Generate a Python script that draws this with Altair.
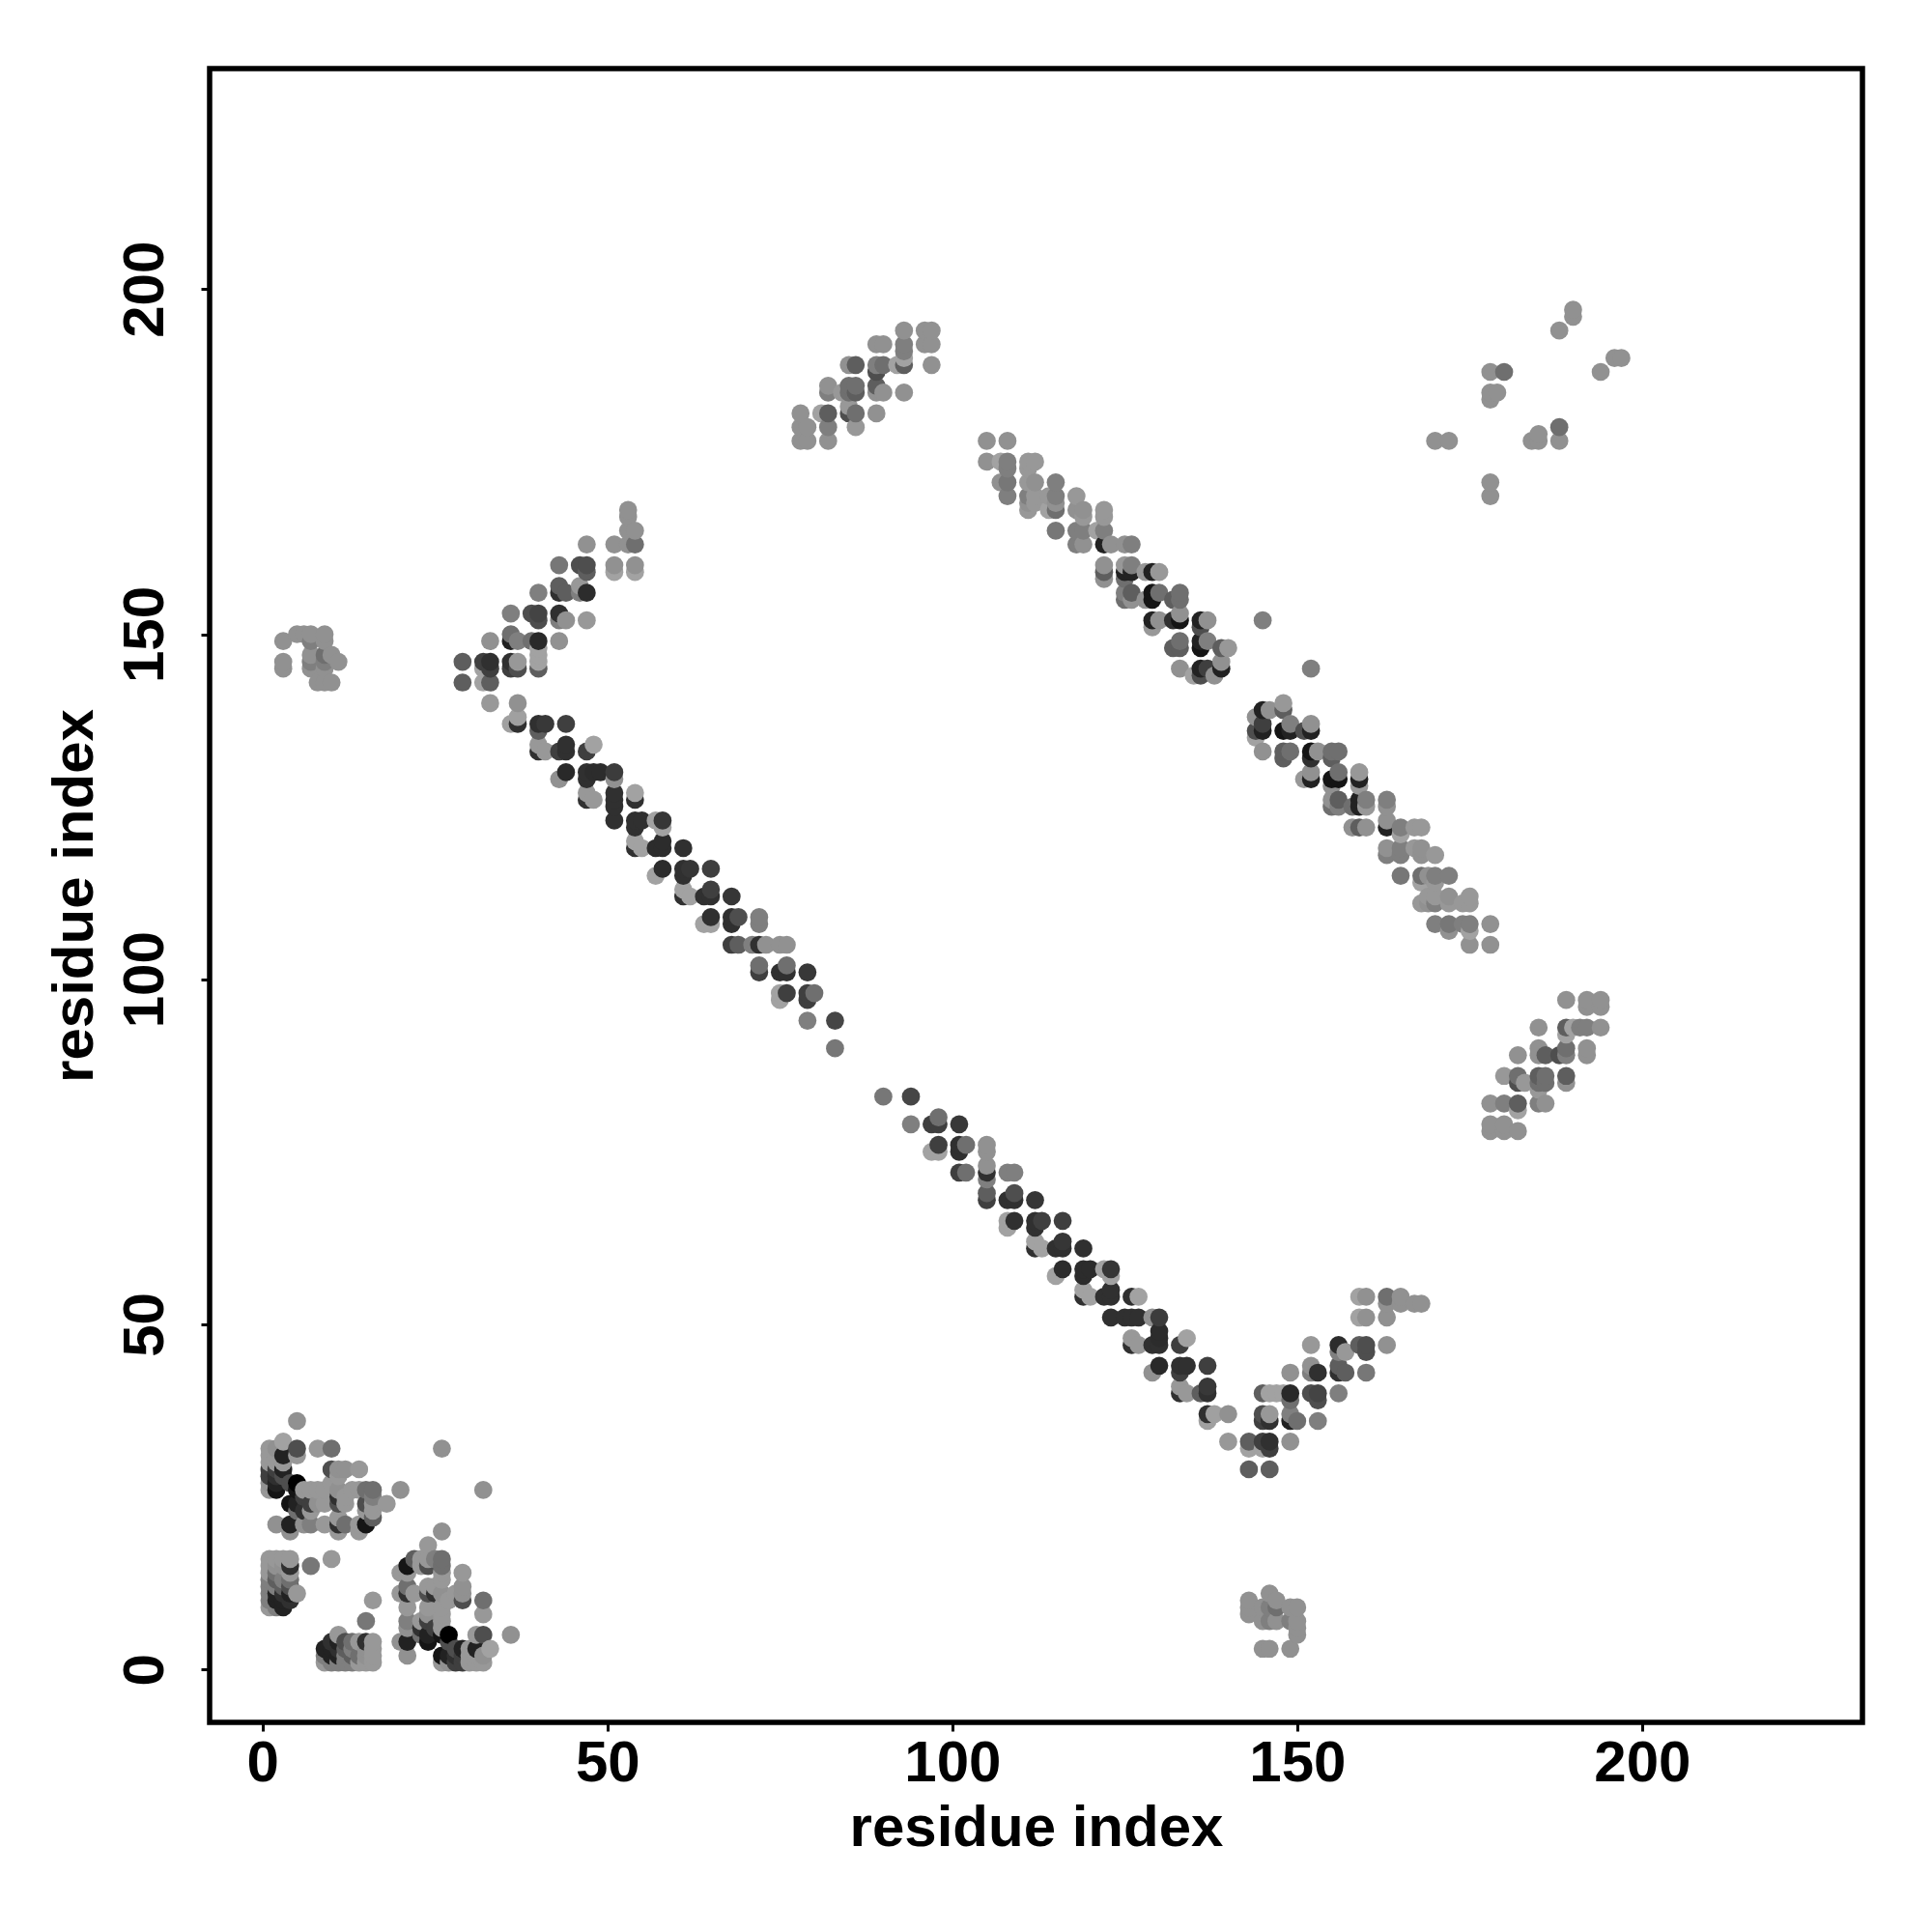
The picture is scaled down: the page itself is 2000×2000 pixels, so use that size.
import altair as alt
import pandas as pd

# (residue i, residue j, grey level), for i < j; the map is symmetric
block_a = [(5,36,0x99),(1,32,0xa0),(2,32,0x99),(3,33,0xaa),(5,32,0x55),(8,32,0xa0),(10,32,0x77),(5,31,0xa0),(3,31,0x22),(1,31,0xa0),(1,30,0xa0),
 (3,29,0x22),(2,29,0x44),(1,29,0x44),(10,29,0x77),(11,29,0x99),(12,29,0x99),(14,29,0xa0),(1,28,0x44),(2,28,0x33),(3,28,0x55),
 (5,27,0x00),(4,27,0x55),(2,27,0x22),(1,26,0xa0),(2,26,0x11),(5,26,0x11),(6,26,0xa0),(7,26,0xa0),(9,26,0xa0),(10,27,0xa0),(11,26,0x99),
 (13,26,0xa0),(15,26,0x77),(16,26,0x77),(20,26,0x99),(26,32,0x99),(4,24,0x11),(5,24,0x22),(6,25,0x44),(7,24,0x44),(9,24,0xa0),(11,24,0x55),
 (11,25,0x33),(12,24,0xa0),(12,25,0xa0),(15,24,0x55),(16,25,0x88),(16,24,0xa0),(18,24,0xa0),(5,23,0x77),(6,23,0x33),(7,23,0xa0),(15,23,0xa0),
 (16,23,0xa0),(16,22,0x66),(2,21,0x99),(4,21,0x22),(4,20,0x99),(6,21,0x99),(7,21,0x88),(9,21,0xa0),(11,21,0x33),(12,21,0x77),(11,20,0xa0),
 (14,21,0xa0),(15,21,0x11),(14,20,0xa0),(14,26,0xa0),(13,26,0xa0),(11,22,0xa0),(8,24,0x99),(8,26,0xa0),(10,29,0x55),(11,28,0xa0)]
block_b = [(1,16,0xa0),(2,16,0xa0),(4,16,0xa0),(4,15,0x33),(1,15,0xa0),(2,15,0x99),(4,14,0xa0),(1,14,0xa0),(2,14,0x77),(1,13,0x88),(2,13,0x66),
 (4,13,0x77),(1,12,0x88),(2,12,0x88),(3,12,0x66),(4,12,0x55),(5,11,0xa0),(1,11,0x88),(2,11,0x22),(3,11,0x33),(4,11,0x22),(1,10,0x88),(2,10,0x22),
 (3,10,0x22),(4,10,0x33),(1,9,0xa0),(2,9,0x88),(3,9,0x22),(7,15,0x80),(10,16,0xa0),(3,13,0x88),(3,15,0x99),(3,16,0xa0)]
block_c = [(1,27,0xa0),(2,30,0xa0),(1,26,0xa0),(3,30,0xa0),(2,31,0xa0),(1,27,0x99)]
strand_1 = [(29,146,0x66),(32,146,0x44),(33,146,0x33),(33,145,0x44),(32,145,0xaa),(36,146,0x33),(36,145,0x44),(37,145,0x55),(37,146,0xa0),(40,145,0x66),
 (40,147,0xaa),(40,146,0xaa),(29,143,0x66),(32,143,0xaa),(33,143,0x66),(33,140,0xa0),(37,140,0x99),(36,137,0xa8),(37,137,0x33),(37,138,0xa8),
 (40,137,0x33),(41,137,0x3c),(44,137,0x44),(40,136,0x66),(40,133,0x33),(40,134,0xa0),(41,133,0xa0),(43,133,0x44),(44,133,0x33),(44,134,0x33),
 (47,133,0x44),(48,134,0xaa),(44,130,0x2a),(43,129,0x99),(47,130,0x33),(48,130,0x2e),(49,130,0x2e),(47,129,0x33),(51,130,0x40),(51,129,0x99),
 (47,126,0x33),(47,127,0xa0),(48,126,0xa0),(51,127,0x33),(51,126,0x33),(51,125,0x33),(54,126,0x33),(54,127,0xaa),(51,123,0x33),(54,123,0x33),
 (55,123,0x33),(54,122,0x33),(57,123,0xaa),(58,123,0x3a),(58,122,0xaa),(54,119,0x33),(54,120,0xaa),(55,119,0xaa),(57,119,0x2e),(58,119,0x2e),
 (58,120,0x2e),(61,119,0x33),(58,116,0x2e),(57,115,0xaa),(61,116,0x33),(62,116,0x3a),(61,115,0x33),(65,116,0x44),(61,112,0x33),(61,113,0xaa),
 (62,112,0xaa),(64,112,0x33),(65,112,0x33),(65,113,0x44),(68,112,0x3a),(65,109,0x33),(64,108,0xaa),(65,108,0xaa),(68,109,0x33),(69,109,0x55),
 (68,108,0x33),(72,109,0x88),(72,108,0x88),(68,105,0x44),(69,105,0x66),(71,105,0x88),(72,105,0x33),(73,105,0x99),(75,105,0x99),(76,105,0x99),
 (72,102,0x77),(72,101,0x44),(75,101,0x33),(76,101,0x33),(76,102,0x77),(79,101,0x3c),(76,98,0x44),(75,98,0xaa),(75,97,0xaa),(79,98,0x44),
 (79,97,0x44),(80,98,0x77),(79,94,0x88),(83,94,0x4c),(83,90,0x80)]
strand_2 = [(53,168,0x99),(53,167,0x99),(53,165,0x99),(54,165,0x99),(53,163,0x99),(54,163,0x77),(51,163,0x99),(47,163,0x99),(51,160,0x99),(51,159,0xaa),
 (54,160,0x99),(54,159,0xaa),(43,160,0x80),(46,160,0x55),(47,160,0x55),(47,159,0x66),(40,156,0x88),(43,156,0x33),(43,157,0x66),(44,156,0x66),
 (46,157,0xa0),(46,156,0x88),(47,156,0x2e),(36,153,0x88),(39,153,0x55),(40,153,0x4a),(40,152,0x55),(43,153,0x33),(43,152,0x88),(44,152,0x99),
 (47,152,0xa0),(33,149,0x99),(36,149,0x1f),(36,150,0x77),(37,149,0x88),(39,149,0x77),(40,149,0x2a),(40,148,0xaa),(43,149,0x99)]
strand_3 = [(105,178,0x99),(108,178,0x99),(105,175,0x99),(107,175,0xaa),(108,175,0x88),(108,174,0x88),(107,172,0x99),(108,172,0x80),(108,170,0x88),
 (111,175,0xa0),(112,175,0xa0),(111,174,0xa0),(111,172,0xa0),(112,172,0x99),(111,170,0x88),(111,169,0x99),(112,170,0xa0),(112,169,0xa0),(111,168,0xa0),
 (115,172,0x88),(115,170,0x88),(114,170,0xa0),(115,168,0x77),(115,169,0x99),(114,168,0xaa),(115,165,0x80),(118,170,0xa0),(118,168,0x99),(118,165,0x88),
 (118,163,0x88),(119,168,0x99),(119,167,0xa0),(119,165,0x88),(119,163,0x99),(121,165,0xaa),(122,168,0xa0),(122,167,0xa0),(122,165,0x88),(122,163,0x22),
 (123,163,0x99),(125,163,0x99),(126,163,0x88),(122,160,0x99),(122,159,0x66),(122,158,0x99),(125,160,0xa0),(125,159,0x22),(126,159,0x22),(126,160,0x88),
 (125,158,0x77),(128,159,0xa0),(129,159,0x22),(130,159,0xa0),(125,156,0x88),(126,156,0x66),(128,155,0x99),(129,156,0x11),(129,155,0x11),(130,156,0x77),
 (126,155,0x99),(125,155,0x77),(132,155,0x66),(133,156,0x77),(133,155,0x77),(129,152,0x22),(130,152,0x99),(129,151,0xa0),(132,152,0x33),(133,152,0x11),
 (133,153,0x99),(136,152,0x22),(137,152,0x99),(136,151,0x55),(133,149,0x77),(132,148,0x66),(133,148,0x66),(136,148,0x11),(136,149,0x22),(137,149,0x88),
 (139,148,0x66),(140,148,0xa0),(139,146,0x99),(133,145,0x99),(136,145,0x22),(136,144,0x55),(137,145,0x44),(135,144,0xaa),(138,144,0x99),(139,145,0x22),(145,152,0x88)]
strand_4 = [(78,182,0x99),(78,180,0x99),(79,180,0x99),(78,178,0x99),(79,178,0x99),(82,178,0x99),(82,180,0x88),(81,182,0xaa),(82,182,0x66),(82,185,0x88),
 (82,186,0x99),(84,185,0xa0),(85,182,0x55),(85,183,0xa0),(86,182,0x77),(86,180,0xa0),(89,182,0x99),(85,186,0x77),(86,186,0x77),(86,185,0x66),(85,185,0x77),
 (89,186,0x66),(89,185,0x99),(90,185,0x99),(93,185,0x99),(85,189,0x99),(86,189,0x66),(89,189,0x88),(89,188,0x55),(90,189,0x77),(89,192,0x99),(90,192,0x99),
 (92,189,0xaa),(93,189,0x66),(93,190,0xaa),(93,194,0x99),(93,192,0x88),(93,191,0x88),(96,194,0x99),(97,194,0x99),(96,192,0x99),(97,192,0x99),(97,189,0x99)]
cluster_left = [(3,149,0x99),(3,146,0x99),(3,145,0x99),(5,150,0x99),(6,150,0x99),(7,150,0x99),(9,150,0x99),(7,149,0x88),(9,149,0x99),(7,147,0x99),
 (7,146,0x88),(9,147,0x77),(9,146,0x88),(10,147,0x99),(11,146,0x99),(8,143,0x99),(9,143,0x99),(10,143,0x99),(7,145,0x99),(9,145,0x99)]
cluster_right = [(170,178,0x99),(172,178,0x99),(178,184,0x99),(178,185,0x99),(179,185,0x99),(178,188,0x99),(180,188,0x77),(188,194,0x99),(190,196,0x99),(190,197,0x99)]

upper = block_a + block_b + block_c + strand_1 + strand_2 + strand_3 + strand_4 + cluster_left + cluster_right
points = {}
for i, j, level in upper:
    points[(i, j)] = level
    points[(j, i)] = level
rows = [{"x": k[0], "y": k[1], "level": points[k]} for k in sorted(points)]
df = pd.DataFrame(rows)
df["order"] = range(len(df))

ticks = [0, 50, 100, 150, 200]
domain = [-7.67, 231.95]
FONT = "Liberation Sans"

chart = alt.Chart(df).mark_circle(size=350, opacity=1).encode(
    x=alt.X("x:Q", scale=alt.Scale(domain=domain, nice=False, zero=False),
            axis=alt.Axis(values=ticks, title="residue index", grid=False, domain=False,
                          tickSize=9, tickWidth=3, tickColor="black", labelFontSize=60,
                          labelFont=FONT, labelFontWeight="bold", labelColor="black",
                          labelPadding=4, labelFlush=False, titleFontSize=60, titleFont=FONT,
                          titleFontWeight="bold", titleColor="black", titlePadding=8)),
    y=alt.Y("y:Q", scale=alt.Scale(domain=domain, nice=False, zero=False),
            axis=alt.Axis(values=ticks, title="residue index", grid=False, domain=False,
                          tickSize=9, tickWidth=3, tickColor="black", labelFontSize=60,
                          labelFont=FONT, labelFontWeight="bold", labelColor="black",
                          labelAngle=270, labelAlign="center", labelBaseline="bottom",
                          labelPadding=27, titleFontSize=60, titleFont=FONT,
                          titleFontWeight="bold", titleColor="black", titlePadding=12)),
    color=alt.Color("level:Q", scale=alt.Scale(domain=[0, 255], range=["#000000", "#ffffff"]), legend=None),
    order=alt.Order("order:Q"),
).properties(
    width=1711, height=1712,
    padding={"left": 209, "top": 63, "right": 60, "bottom": 215},
    autosize=alt.AutoSizeParams(type="none"),
    background="white",
).configure_view(stroke="black", strokeWidth=5.5)

chart.save("out.html", embed_options={"renderer": "svg", "actions": False})
